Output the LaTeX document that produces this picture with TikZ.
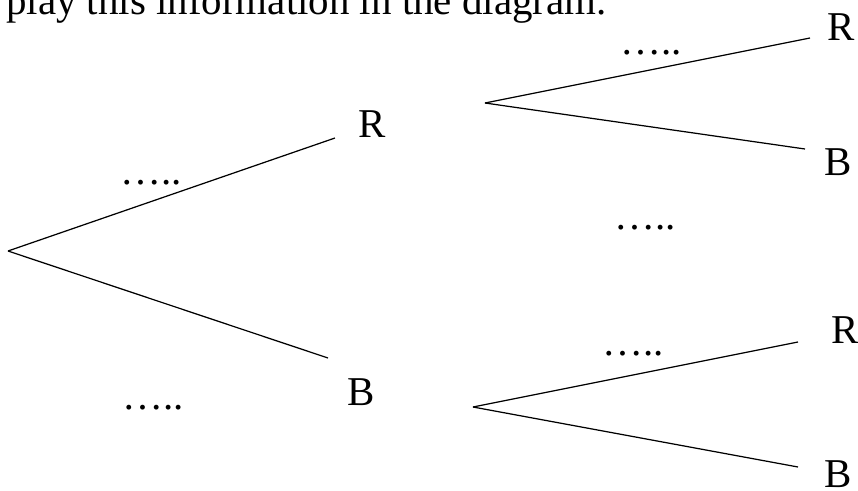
\documentclass[tikz,border=0pt]{standalone}
\usepackage{fontspec}
\setmainfont{Liberation Serif}
\usetikzlibrary{positioning}
\tikzset{
  outcome/.style={
    anchor=base, inner sep=0pt,
    font=\fontsize{23.3}{28}\selectfont
  },
  prob/.style={
    anchor=base, inner sep=0pt,
    font=\fontsize{23.3}{28}\selectfont
  },
  branch/.style={draw=black, line width=0.7pt}
}
\begin{document}
\begin{tikzpicture}
    \useasboundingbox (0,0) rectangle (17.16,9.8);
    \clip (0,0) rectangle (17.16,9.8);

    % cut-off line of the question above the tree
    \node[prob, anchor=base east] (question) at (12.14,9.52)
      {play this information in the diagram.};

    % first pick
    \coordinate (start) at (0.16,4.78);
    \coordinate (endR) at (6.70,7.04);
    \coordinate (endB) at (6.56,2.64);
    \node[outcome] (firstR) at (7.44,7.06) {R};
    \node[outcome] (firstB) at (7.22,1.70) {B};
    \node[prob] (pR) at (3.02,6.12) {…..};
    \node[prob] (pB) at (3.06,1.62) {…..};
    \draw[branch] (start) -- (endR);
    \draw[branch] (start) -- (endB);

    % second pick after R
    \coordinate (forkR) at (9.70,7.74);
    \coordinate (endRR) at (16.20,9.04);
    \coordinate (endRB) at (16.10,6.82);
    \node[outcome] (secRR) at (16.82,9.00) {R};
    \node[outcome] (secRB) at (16.76,6.30) {B};
    \node[prob] (pRR) at (13.02,8.72) {…..};
    \node[prob] (pRB) at (12.90,5.22) {…..};
    \draw[branch] (forkR) -- (endRR);
    \draw[branch] (forkR) -- (endRB);

    % second pick after B
    \coordinate (forkB) at (9.46,1.66);
    \coordinate (endBR) at (15.96,2.96);
    \coordinate (endBB) at (15.96,0.46);
    \node[outcome] (secBR) at (16.90,2.94) {R};
    \node[outcome] (secBB) at (16.76,0.06) {B};
    \node[prob] (pBR) at (12.66,2.70) {…..};
    \draw[branch] (forkB) -- (endBR);
    \draw[branch] (forkB) -- (endBB);
  \end{tikzpicture}
\end{document}
